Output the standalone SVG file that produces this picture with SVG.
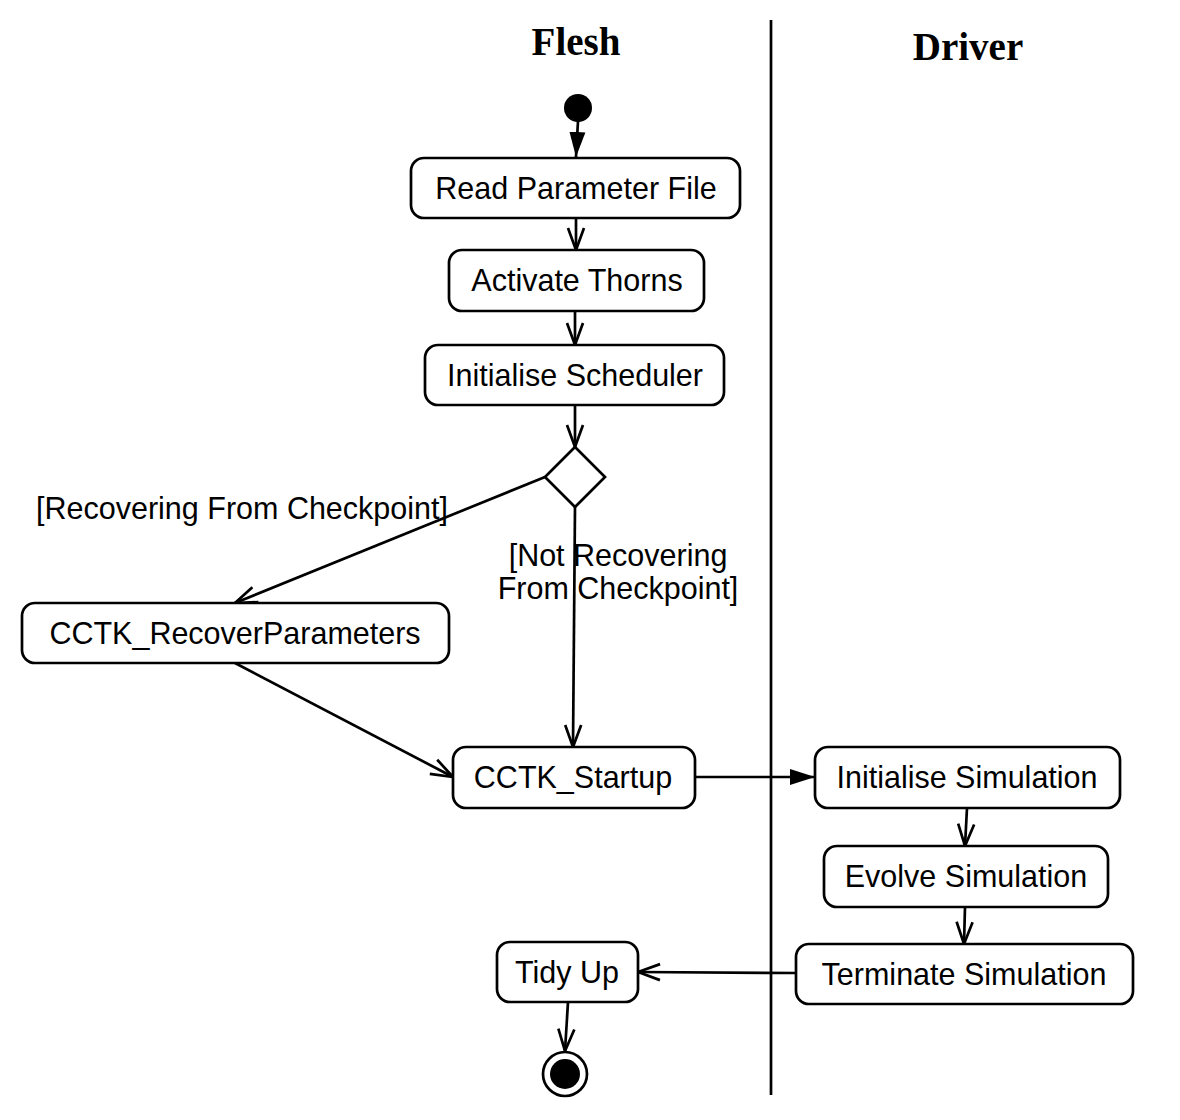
<svg xmlns="http://www.w3.org/2000/svg" width="1180" height="1120" viewBox="0 0 1180 1120">
<style>
.node rect{fill:#fff;stroke:#000;stroke-width:2.7}
.lbl{font-family:"Liberation Sans",Arial,sans-serif;font-size:30.5px;fill:#000;text-anchor:middle}
.title{font-family:"Liberation Serif","Times New Roman",serif;font-size:39px;font-weight:bold;fill:#000;text-anchor:middle}
.conn{fill:none;stroke:#000;stroke-width:2.7}
.open{marker-end:url(#openArrow)}
.solid{marker-end:url(#solidArrow)}
</style>
<defs>
<marker id="openArrow" viewBox="0 0 24 22" refX="23" refY="11" markerWidth="24" markerHeight="22" markerUnits="userSpaceOnUse" orient="auto">
<path d="M1,3 L23,11 L1,19" fill="none" stroke="#000" stroke-width="2.7"/>
</marker>
<marker id="solidArrow" viewBox="0 0 26 22" refX="25" refY="11" markerWidth="26" markerHeight="22" markerUnits="userSpaceOnUse" orient="auto">
<path d="M0,3 L25,11 L0,19 Z" fill="#000"/>
</marker>
</defs>
<g id="lanes">
<text class="title" x="576" y="55">Flesh</text>
<text class="title" x="968" y="60">Driver</text>
<line x1="771" y1="20" x2="771" y2="1095" stroke="#000" stroke-width="2.7"/>
</g>
<g id="connectors">
<line class="conn solid" x1="578" y1="121" x2="576" y2="157"/>
<line class="conn open" x1="576" y1="218" x2="576" y2="250"/>
<line class="conn open" x1="575" y1="311" x2="575" y2="345"/>
<line class="conn open" x1="575" y1="405" x2="575" y2="447"/>
<line class="conn open" x1="545" y1="477" x2="235" y2="603"/>
<line class="conn open" x1="575" y1="507" x2="573" y2="747"/>
<line class="conn open" x1="235" y1="663" x2="453" y2="777"/>
<line class="conn solid" x1="695" y1="777" x2="815" y2="777"/>
<line class="conn open" x1="967" y1="808" x2="965" y2="846"/>
<line class="conn open" x1="965" y1="907" x2="964" y2="944"/>
<line class="conn open" x1="796" y1="973" x2="638" y2="972"/>
<line class="conn open" x1="568" y1="1002" x2="565" y2="1051"/>
<text class="lbl" x="242" y="519">[Recovering From Checkpoint]</text>
<text class="lbl" x="618" y="566">[Not Recovering</text>
<text class="lbl" x="618" y="599">From Checkpoint]</text>
</g>
<g id="start">
<circle cx="578" cy="108" r="14" fill="#000"/>
</g>
<g id="readParam" class="node">
<rect x="411" y="158" width="329" height="60" rx="13"/>
<text class="lbl" x="576" y="199">Read Parameter File</text>
</g>
<g id="activateThorns" class="node">
<rect x="449" y="250" width="255" height="61" rx="13"/>
<text class="lbl" x="577" y="291">Activate Thorns</text>
</g>
<g id="initScheduler" class="node">
<rect x="425" y="345" width="299" height="60" rx="13"/>
<text class="lbl" x="575" y="386">Initialise Scheduler</text>
</g>
<g id="decision">
<polygon points="575,447 605,477 575,507 545,477" fill="#fff" stroke="#000" stroke-width="2.7"/>
</g>
<g id="recoverParams" class="node">
<rect x="22" y="603" width="427" height="60" rx="13"/>
<text class="lbl" x="235" y="644">CCTK_RecoverParameters</text>
</g>
<g id="startup" class="node">
<rect x="453" y="747" width="242" height="61" rx="13"/>
<text class="lbl" x="573" y="788">CCTK_Startup</text>
</g>
<g id="initSim" class="node">
<rect x="815" y="747" width="305" height="61" rx="13"/>
<text class="lbl" x="967" y="788">Initialise Simulation</text>
</g>
<g id="evolveSim" class="node">
<rect x="824" y="846" width="284" height="61" rx="13"/>
<text class="lbl" x="966" y="887">Evolve Simulation</text>
</g>
<g id="terminateSim" class="node">
<rect x="796" y="944" width="337" height="60" rx="13"/>
<text class="lbl" x="964" y="985">Terminate Simulation</text>
</g>
<g id="tidyUp" class="node">
<rect x="497" y="942" width="141" height="60" rx="13"/>
<text class="lbl" x="567" y="983">Tidy Up</text>
</g>
<g id="end">
<circle cx="565" cy="1074" r="22" fill="#fff" stroke="#000" stroke-width="2.7"/>
<circle cx="565" cy="1074" r="15" fill="#000"/>
</g>
</svg>
